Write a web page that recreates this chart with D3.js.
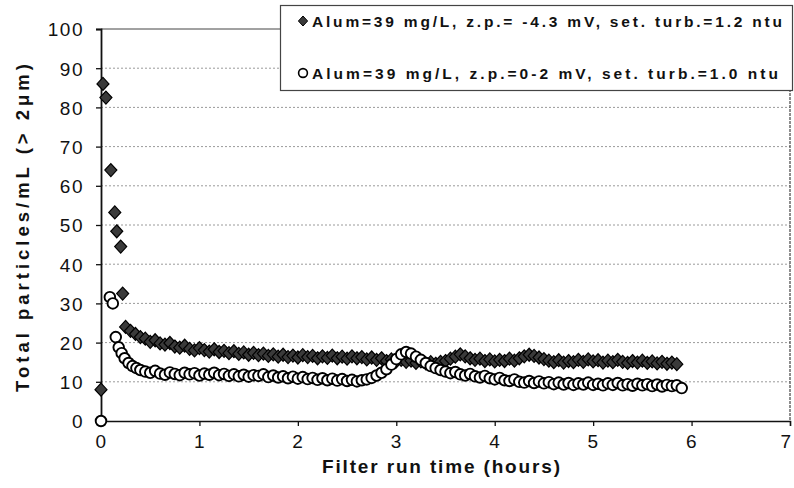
<!DOCTYPE html>
<html>
<head>
<meta charset="utf-8">
<script src="https://cdn.jsdelivr.net/npm/d3@7"></script>
<style>
  html, body { margin: 0; padding: 0; background: #fff; }
  svg { display: block; font-family: "Liberation Sans", Arial, sans-serif; }
</style>
</head>
<body>
<svg id="chart" width="794" height="488"></svg>
<script>
// Filter run: total particle counts for two coagulation conditions
const xTicks = [0, 1, 2, 3, 4, 5, 6, 7];
const yTicks = [0, 10, 20, 30, 40, 50, 60, 70, 80, 90, 100];

const seriesLabels = [
  "Alum=39 mg/L, z.p.= -4.3 mV, set. turb.=1.2 ntu",
  "Alum=39 mg/L, z.p.=0-2 mV, set. turb.=1.0 ntu"
];

// Series 1 (filled diamonds): hours and particles/mL
const diamondHours = [
  0, 0.02, 0.05, 0.10, 0.14, 0.16, 0.20, 0.22,
  0.25, 0.30, 0.35, 0.40, 0.45, 0.50, 0.55, 0.60, 0.65, 0.70, 0.75, 0.80, 0.85, 0.90, 0.95,
  1.00, 1.05, 1.10, 1.15, 1.20, 1.25, 1.30, 1.35, 1.40, 1.45, 1.50, 1.55, 1.60, 1.65, 1.70, 1.75, 1.80, 1.85, 1.90, 1.95,
  2.00, 2.05, 2.10, 2.15, 2.20, 2.25, 2.30, 2.35, 2.40, 2.45, 2.50, 2.55, 2.60, 2.65, 2.70, 2.75, 2.80, 2.85, 2.90, 2.95,
  3.00, 3.05, 3.10, 3.15, 3.20, 3.25, 3.30, 3.35, 3.40, 3.45, 3.50, 3.55, 3.60, 3.65, 3.70, 3.75, 3.80, 3.85, 3.90, 3.95,
  4.00, 4.05, 4.10, 4.15, 4.20, 4.25, 4.30, 4.35, 4.40, 4.45, 4.50, 4.55, 4.60, 4.65, 4.70, 4.75, 4.80, 4.85, 4.90, 4.95,
  5.00, 5.05, 5.10, 5.15, 5.20, 5.25, 5.30, 5.35, 5.40, 5.45, 5.50, 5.55, 5.60, 5.65, 5.70, 5.75, 5.80, 5.85
];
const diamondCounts = [
  8.0, 86.0, 82.5, 64.0, 53.2, 48.4, 44.5, 32.5,
  24.0, 23.0, 22.2, 21.4, 21.0, 20.2, 20.6, 19.8, 19.5, 19.9, 19.0, 18.7, 19.2, 18.4, 18.0,
  18.6, 18.1, 17.7, 18.3, 17.6, 17.9, 17.3, 17.8, 17.1, 17.5, 16.9, 17.4, 16.8, 17.2, 16.6, 17.0, 16.4, 16.9, 16.3, 16.7,
  16.2, 16.8, 16.3, 16.6, 16.0, 16.5, 16.1, 16.7, 16.0, 16.4, 15.9, 16.5, 16.0, 16.3, 15.7, 16.2, 15.6, 16.0, 15.3, 15.7,
  15.2, 15.6, 15.1, 15.4, 14.8, 15.2, 14.7, 15.0, 14.6, 15.1, 15.3, 15.9, 16.4, 17.0, 16.5, 16.0, 15.6, 15.9, 15.3, 15.7,
  15.2, 15.6, 15.3, 15.9, 15.4, 16.0, 16.5, 16.9, 16.6, 16.2, 15.8, 15.4, 15.0, 15.5, 14.9, 15.3, 15.0, 15.6, 15.1, 15.7,
  15.2, 15.5, 14.9, 15.4, 15.0, 15.6, 15.1, 14.8, 15.3, 14.9, 15.4, 14.8, 15.2, 14.7, 15.1, 14.6, 14.9, 14.5
];

// Series 2 (open circles): hours and particles/mL
const circleHours = [
  0, 0.09, 0.12, 0.15, 0.18, 0.21, 0.24, 0.28, 0.32, 0.36, 0.40, 0.45,
  0.50, 0.55, 0.60, 0.65, 0.70, 0.75, 0.80, 0.85, 0.90, 0.95,
  1.00, 1.05, 1.10, 1.15, 1.20, 1.25, 1.30, 1.35, 1.40, 1.45, 1.50, 1.55, 1.60, 1.65, 1.70, 1.75, 1.80, 1.85, 1.90, 1.95,
  2.00, 2.05, 2.10, 2.15, 2.20, 2.25, 2.30, 2.35, 2.40, 2.45, 2.50, 2.55, 2.60, 2.65, 2.70, 2.75, 2.80, 2.85, 2.90, 2.95,
  3.00, 3.05, 3.10, 3.15, 3.20, 3.25, 3.30, 3.35, 3.40, 3.45, 3.50, 3.55, 3.60, 3.65, 3.70, 3.75, 3.80, 3.85, 3.90, 3.95,
  4.00, 4.05, 4.10, 4.15, 4.20, 4.25, 4.30, 4.35, 4.40, 4.45, 4.50, 4.55, 4.60, 4.65, 4.70, 4.75, 4.80, 4.85, 4.90, 4.95,
  5.00, 5.05, 5.10, 5.15, 5.20, 5.25, 5.30, 5.35, 5.40, 5.45, 5.50, 5.55, 5.60, 5.65, 5.70, 5.75, 5.80, 5.85, 5.90
];
const circleCounts = [
  0.0, 31.6, 30.0, 21.4, 18.8, 17.3, 16.0, 14.8, 14.0, 13.5, 13.0, 12.6,
  12.3, 12.8, 12.1, 11.8, 12.4, 12.0, 11.7, 12.3, 11.9, 12.2,
  11.6, 12.1, 11.8, 12.3, 11.7, 12.0, 11.5, 11.9, 11.4, 11.8, 11.3, 11.7, 11.5, 11.9, 11.2, 11.6, 11.1, 11.4, 10.9, 11.3,
  10.8, 11.2, 10.7, 11.0, 10.5, 10.9, 10.4, 10.8, 10.3, 10.7, 10.2, 10.5, 10.1, 10.4, 10.6, 11.0, 11.6, 12.3, 13.2, 14.4,
  15.8, 17.0, 17.6, 17.2, 16.4, 15.6, 14.8, 14.0, 13.5, 13.0, 12.6, 12.2, 12.5, 11.9, 11.6, 12.0, 11.4, 11.1, 11.5, 10.9,
  10.6, 11.0, 10.4, 10.2, 10.6, 10.0, 9.8, 10.2, 9.7, 10.1, 9.6, 9.9, 9.4, 9.8, 9.3, 9.7, 9.2, 9.6, 9.3, 9.8,
  9.2, 9.5, 9.1, 9.6, 9.2, 9.7, 9.1, 9.4, 9.0, 9.5, 9.1, 9.4, 8.9, 9.3, 8.8, 9.2, 8.9, 9.1, 8.4
];

const svg = d3.select("#chart");

const x = d3.scaleLinear().domain([0, 7]).range([101, 790]);
const y = d3.scaleLinear().domain([0, 100]).range([421, 29]);

// Horizontal dotted gridlines
svg.append("g")
  .selectAll("line")
  .data(yTicks.filter(d => d > 0))
  .join("line")
  .attr("x1", x(0)).attr("x2", x(7))
  .attr("y1", d => y(d)).attr("y2", d => y(d))
  .attr("stroke", d => d === 100 ? "#444" : "#9a9a9a")
  .attr("stroke-width", 1)
  .attr("stroke-dasharray", d => d === 100 ? null : "2,2");

// Right frame edge
svg.append("line")
  .attr("x1", x(7)).attr("x2", x(7))
  .attr("y1", y(100)).attr("y2", y(0))
  .attr("stroke", "#444").attr("stroke-width", 1.2)
  .attr("stroke-dasharray", "3,1");

// Axes
const xAxis = d3.axisBottom(x).tickValues(xTicks).tickFormat(d3.format("d"))
  .tickSize(5).tickPadding(9);
const yAxis = d3.axisLeft(y).tickValues(yTicks).tickFormat(d3.format("d"))
  .tickSize(5).tickPadding(12);

const gx = svg.append("g").attr("transform", `translate(0,${y(0)})`).call(xAxis);
const gy = svg.append("g").attr("transform", `translate(${x(0)},0)`).call(yAxis);

[gx, gy].forEach(g => {
  g.select(".domain").attr("stroke", "#111").attr("stroke-width", 1.8);
  g.selectAll(".tick line").attr("stroke", "#111").attr("stroke-width", 1.3);
  g.selectAll(".tick text")
    .attr("fill", "#111")
    .style("font-size", "19px")
    .style("letter-spacing", "1.5px")
    .style("font-family", "\"Liberation Sans\", Arial, sans-serif");
});
gx.select(".domain").attr("stroke-width", 1.4);
gy.selectAll(".tick text").attr("dy", "0.36em");
// keep the last hour label inside the page edge
gx.selectAll(".tick text").filter(d => d === 7).attr("dx", "-4");

// Markers
const diamondPath = "M0,-6.5L6,0L0,6.5L-6,0Z";

const diamonds = diamondHours.map((h, i) => ({ h, v: diamondCounts[i] }));
const circles = circleHours.map((h, i) => ({ h, v: circleCounts[i] }));

svg.append("g")
  .selectAll("path")
  .data(diamonds)
  .join("path")
  .attr("d", diamondPath)
  .attr("transform", d => `translate(${x(d.h)},${y(d.v)})`)
  .attr("fill", "#3a3a3a")
  .attr("stroke", "#000")
  .attr("stroke-width", 1.2);

svg.append("g")
  .selectAll("circle")
  .data(circles)
  .join("circle")
  .attr("cx", d => x(d.h))
  .attr("cy", d => y(d.v))
  .attr("r", 5.3)
  .attr("fill", "#fff")
  .attr("stroke", "#000")
  .attr("stroke-width", 1.9);

// Legend box
const lg = svg.append("g");
lg.append("rect")
  .attr("x", 280.5).attr("y", 5.5)
  .attr("width", 512).attr("height", 85)
  .attr("fill", "#fff")
  .attr("stroke", "#444").attr("stroke-width", 1.2);

lg.append("path")
  .attr("d", "M0,-5L4.6,0L0,5L-4.6,0Z")
  .attr("transform", "translate(303,21)")
  .attr("fill", "#3a3a3a").attr("stroke", "#000").attr("stroke-width", 1);
lg.append("circle")
  .attr("cx", 303).attr("cy", 73).attr("r", 4.4)
  .attr("fill", "#fff").attr("stroke", "#000").attr("stroke-width", 1.6);

lg.selectAll("text.series")
  .data(seriesLabels)
  .join("text")
  .attr("class", "series")
  .attr("x", 312)
  .attr("y", (d, i) => i === 0 ? 27 : 79)
  .attr("textLength", (d, i) => i === 0 ? 470 : 466)
  .attr("lengthAdjust", "spacing")
  .attr("fill", "#111")
  .style("font-size", "15.5px")
  .style("font-weight", "bold")
  .text(d => d);

// Axis titles
svg.append("text")
  .attr("x", 441)
  .attr("y", 473)
  .attr("text-anchor", "middle")
  .attr("textLength", 238)
  .attr("lengthAdjust", "spacing")
  .attr("fill", "#111")
  .style("font-size", "19px")
  .style("font-weight", "bold")
  .text("Filter run time (hours)");

svg.append("text")
  .attr("transform", "translate(29,228) rotate(-90)")
  .attr("text-anchor", "middle")
  .attr("textLength", 328)
  .attr("lengthAdjust", "spacing")
  .attr("fill", "#111")
  .style("font-size", "18.5px")
  .style("font-weight", "bold")
  .text("Total particles/mL (> 2μm)");
</script>
</body>
</html>
